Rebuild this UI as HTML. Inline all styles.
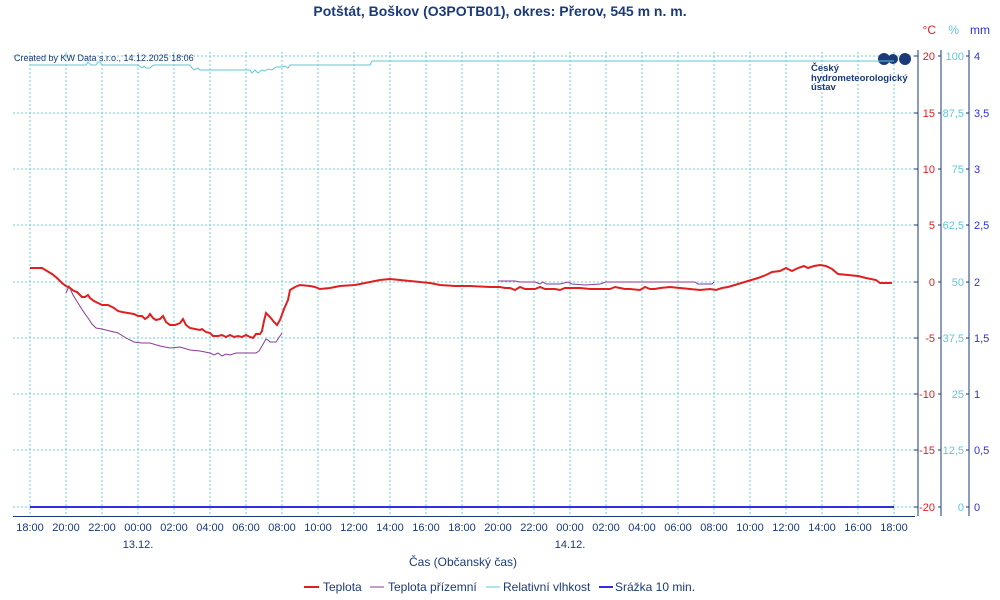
<!DOCTYPE html>
<html><head><meta charset="utf-8"><style>
body{margin:0;background:#fff;}
svg{display:block;font-family:"Liberation Sans",sans-serif;}
</style></head><body>
<svg width="1000" height="600" xmlns="http://www.w3.org/2000/svg">
<rect width="1000" height="600" fill="#fff"/>
<text x="500" y="16" text-anchor="middle" font-size="14" font-weight="bold" fill="#1a3a7a">Potštát, Boškov (O3POTB01), okres: Přerov, 545 m n. m.</text>
<g stroke="#6fd0e0" stroke-width="1" stroke-dasharray="2,2">
<line x1="13" y1="56" x2="915" y2="56"/><line x1="13" y1="113" x2="915" y2="113"/>
<line x1="13" y1="169" x2="915" y2="169"/><line x1="13" y1="225" x2="915" y2="225"/>
<line x1="13" y1="282" x2="915" y2="282"/><line x1="13" y1="338" x2="915" y2="338"/>
<line x1="13" y1="394" x2="915" y2="394"/><line x1="13" y1="450" x2="915" y2="450"/>
<line x1="13" y1="507" x2="915" y2="507"/>
<line x1="30" y1="52" x2="30" y2="516"/><line x1="66" y1="52" x2="66" y2="516"/><line x1="102" y1="52" x2="102" y2="516"/><line x1="138" y1="52" x2="138" y2="516"/><line x1="174" y1="52" x2="174" y2="516"/><line x1="210" y1="52" x2="210" y2="516"/><line x1="246" y1="52" x2="246" y2="516"/><line x1="282" y1="52" x2="282" y2="516"/><line x1="318" y1="52" x2="318" y2="516"/><line x1="354" y1="52" x2="354" y2="516"/><line x1="390" y1="52" x2="390" y2="516"/><line x1="426" y1="52" x2="426" y2="516"/><line x1="462" y1="52" x2="462" y2="516"/><line x1="498" y1="52" x2="498" y2="516"/><line x1="534" y1="52" x2="534" y2="516"/><line x1="570" y1="52" x2="570" y2="516"/><line x1="606" y1="52" x2="606" y2="516"/><line x1="642" y1="52" x2="642" y2="516"/><line x1="678" y1="52" x2="678" y2="516"/><line x1="714" y1="52" x2="714" y2="516"/><line x1="750" y1="52" x2="750" y2="516"/><line x1="786" y1="52" x2="786" y2="516"/><line x1="822" y1="52" x2="822" y2="516"/><line x1="858" y1="52" x2="858" y2="516"/><line x1="894" y1="52" x2="894" y2="516"/>
</g>
<line x1="13" y1="516.5" x2="915" y2="516.5" stroke="#1a3a7a"/>
<g font-size="11" fill="#1a3a7a" text-anchor="middle">
<text x="30" y="531">18:00</text><text x="66" y="531">20:00</text><text x="102" y="531">22:00</text><text x="138" y="531">00:00</text><text x="174" y="531">02:00</text><text x="210" y="531">04:00</text><text x="246" y="531">06:00</text><text x="282" y="531">08:00</text><text x="318" y="531">10:00</text><text x="354" y="531">12:00</text><text x="390" y="531">14:00</text><text x="426" y="531">16:00</text><text x="462" y="531">18:00</text><text x="498" y="531">20:00</text><text x="534" y="531">22:00</text><text x="570" y="531">00:00</text><text x="606" y="531">02:00</text><text x="642" y="531">04:00</text><text x="678" y="531">06:00</text><text x="714" y="531">08:00</text><text x="750" y="531">10:00</text><text x="786" y="531">12:00</text><text x="822" y="531">14:00</text><text x="858" y="531">16:00</text><text x="894" y="531">18:00</text>
<text x="138" y="548">13.12.</text><text x="570" y="548">14.12.</text>
<text x="463" y="566" font-size="12">Čas (Občanský čas)</text>
</g>
<text x="14" y="61" font-size="9" fill="#1a3a7a">Created by KW Data s.r.o., 14.12.2025 18:06</text>
<g stroke="#1a3a7a"><line x1="918" y1="50" x2="918" y2="516"/><line x1="941" y1="50" x2="941" y2="516"/><line x1="969" y1="50" x2="969" y2="516"/></g>
<g font-size="11">
<g fill="#e02020" text-anchor="end"><text x="936" y="34" font-size="12">°C</text>
<text x="935" y="60">20</text><text x="935" y="117">15</text><text x="935" y="173">10</text><text x="935" y="229">5</text><text x="935" y="286">0</text><text x="935" y="342">-5</text><text x="935" y="398">-10</text><text x="935" y="454">-15</text><text x="935" y="511">-20</text></g>
<g fill="#60c8d8" text-anchor="end"><text x="959" y="34" font-size="12">%</text>
<text x="964" y="60">100</text><text x="964" y="117">87,5</text><text x="964" y="173">75</text><text x="964" y="229">62,5</text><text x="964" y="286">50</text><text x="964" y="342">37,5</text><text x="964" y="398">25</text><text x="964" y="454">12,5</text><text x="964" y="511">0</text></g>
<g fill="#3030e0"><text x="970" y="34" font-size="12">mm</text>
<text x="974" y="60">4</text><text x="974" y="117">3,5</text><text x="974" y="173">3</text><text x="974" y="229">2,5</text><text x="974" y="286">2</text><text x="974" y="342">1,5</text><text x="974" y="398">1</text><text x="974" y="454">0,5</text><text x="974" y="511">0</text></g>
</g>
<g stroke="#1a3a7a">
<path d="M914 56h4M914 113h4M914 169h4M914 225h4M914 282h4M914 338h4M914 394h4M914 450h4M914 507h4"/>
<path d="M938 56h3M938 113h3M938 169h3M938 225h3M938 282h3M938 338h3M938 394h3M938 450h3M938 507h3"/>
<path d="M966 56h3M966 113h3M966 169h3M966 225h3M966 282h3M966 338h3M966 394h3M966 450h3M966 507h3"/>
</g>
<circle cx="884" cy="59" r="6" fill="#1a3a7a"/><circle cx="893" cy="59" r="5" fill="#1a3a7a"/><circle cx="905" cy="59" r="6" fill="#1a3a7a"/>
<g font-size="9.5" font-weight="bold" fill="#1a3a7a"><text x="811" y="71">Český</text><text x="811" y="81">hydrometeorologický</text><text x="811" y="90">ústav</text></g>
<line x1="30" y1="507" x2="894" y2="507" stroke="#3030e0" stroke-width="2"/>
<polyline fill="none" stroke="#60c8d8" stroke-width="1" points="30,65 86,65 88,62 91,65 96,65 98,62 100,62 102,65 138,65 142,68 144,66 146,68 150,68 152,66 154,65 155,65 172,65 190,65 192,68 194,70 198,68 200,70 210,70 250,70 252,73 255,70 258,73 262,70 265,71 268,69 272,70 276,67 282,67 285,66 288,68 290,65 295,65 300,65 370,65 372,61 894,61"/>
<polyline fill="none" stroke="#8a3a9a" stroke-width="1" points="66,293 69,286 73,295 78,303 83,311 88,318 92,324 96,328 102,329 110,331 118,333 126,338 134,342 142,343 150,343 160,346 170,348 180,347 190,350 200,351 210,353 214,355 218,353 222,356 226,354 230,355 236,353 244,353 252,353 256,353 259,351 262,346 266,339 268,340 270,342 276,342 280,336 282,333"/>
<polyline fill="none" stroke="#8a3a9a" stroke-width="1" points="498,281 515,281 520,282 535,282 540,284 543,282 546,284 560,284 568,282 572,284 585,285 600,284 606,282 640,282 660,282 680,282 695,282 698,284 712,284 714,282"/>
<polyline fill="none" stroke="#e02020" stroke-width="2" points="30,268 42,268 47,271 52,274 57,278 62,283 66,286 70,288 74,291 77,292 79,294 82,297 85,297 88,295 90,298 94,301 98,303 102,305 108,305 114,308 118,311 122,312 128,313 134,314 138,316 142,316 145,319 148,317 150,314 153,318 156,320 160,319 163,316 166,322 170,325 175,325 180,323 183,319 186,325 190,328 195,329 200,330 202,329 206,332 210,333 213,336 218,336 222,335 226,337 230,335 234,337 238,336 242,337 246,335 250,337 253,338 256,334 260,334 262,331 264,321 266,313 270,317 274,322 277,325 280,320 284,309 288,300 290,290 295,287 300,285 310,286 315,287 320,289 330,288 340,286 355,285 365,283 380,280 390,279 400,280 410,281 420,282 430,283 440,285 455,286 470,286 490,287 500,287 505,288 510,288 515,290 520,287 525,289 535,289 540,287 545,289 555,289 560,290 565,288 575,288 580,288 590,289 610,289 615,287 620,288 625,289 630,289 640,290 645,287 650,289 655,289 660,288 670,287 680,288 690,289 700,290 710,289 716,290 722,288 728,287 738,284 748,281 758,278 766,275 772,272 780,271 786,268 792,271 798,268 804,266 808,268 814,266 820,265 826,266 832,269 838,274 848,275 858,276 866,278 876,280 880,283 885,283 892,283"/>
<g font-size="12" fill="#1a3a7a">
<line x1="304" y1="587" x2="319" y2="587" stroke="#e02020" stroke-width="2"/><text x="323" y="591">Teplota</text>
<line x1="370" y1="587" x2="384" y2="587" stroke="#8a3a9a" stroke-width="1"/><text x="388" y="591">Teplota přízemní</text>
<line x1="486" y1="587" x2="500" y2="587" stroke="#60c8d8" stroke-width="1"/><text x="503" y="591">Relativní vlhkost</text>
<line x1="599" y1="587" x2="613" y2="587" stroke="#3030e0" stroke-width="2"/><text x="615" y="591">Srážka 10 min.</text>
</g>
</svg>
</body></html>
